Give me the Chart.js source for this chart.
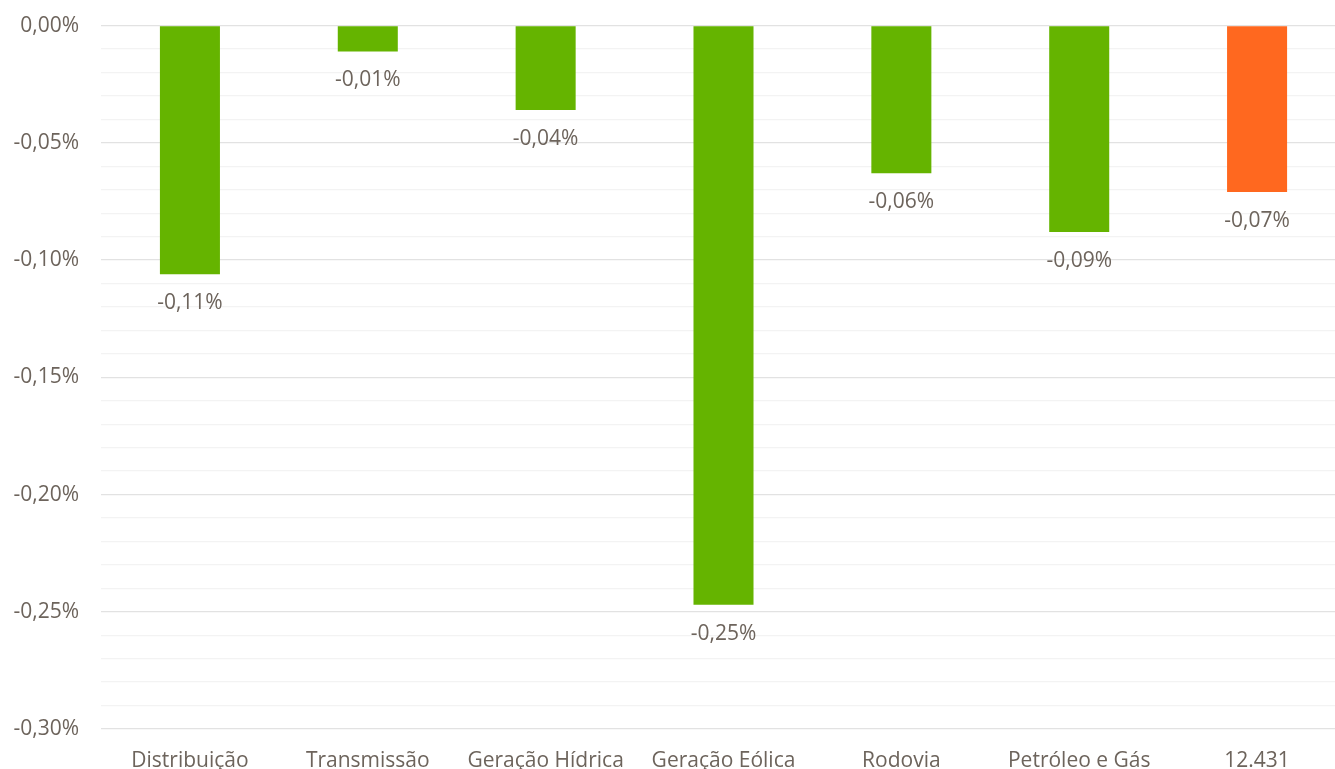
<!DOCTYPE html>
<html>
<head>
<meta charset="utf-8">
<script src="https://cdn.jsdelivr.net/npm/chart.js@4/dist/chart.umd.min.js"></script>
<style>
  html, body { margin: 0; padding: 0; background: #ffffff; overflow: hidden; }
  #wrap { width: 1346px; height: 769px; overflow: hidden; }
  #c { display: block; margin-top: -9px; }
</style>
</head>
<body>
<div id="wrap"><canvas id="c" width="1346" height="778"></canvas></div>
<script>
// Variação por setor (em %)
const categories = ['Distribuição', 'Transmissão', 'Geração Hídrica', 'Geração Eólica', 'Rodovia', 'Petróleo e Gás', '12.431'];
const values = [-0.106, -0.011, -0.036, -0.247, -0.063, -0.088, -0.071];
const barColors = ['#65b400', '#65b400', '#65b400', '#65b400', '#65b400', '#65b400', '#ff681f'];
const yTickLabels = ['0,00%', '-0,05%', '-0,10%', '-0,15%', '-0,20%', '-0,25%', '-0,30%'];

const textColor = '#6d645c';
const fontFamily = "'Open Sans', 'Noto Sans', sans-serif";

function fmtPct(v) {
  return v.toFixed(2).replace('.', ',') + '%';
}

const valueLabels = {
  id: 'valueLabels',
  afterDatasetsDraw(chart) {
    const ctx = chart.ctx;
    const meta = chart.getDatasetMeta(0);
    ctx.save();
    ctx.font = '21px ' + fontFamily;
    ctx.fillStyle = textColor;
    ctx.textAlign = 'center';
    ctx.textBaseline = 'middle';
    meta.data.forEach((bar, i) => {
      ctx.fillText(fmtPct(values[i]), bar.x, bar.y + 29);
    });
    ctx.restore();
  }
};

new Chart(document.getElementById('c'), {
  type: 'bar',
  data: {
    labels: categories,
    datasets: [{
      data: values,
      backgroundColor: barColors,
      borderWidth: 0,
      barPercentage: 0.675,
      categoryPercentage: 0.5
    }]
  },
  options: {
    responsive: false,
    animation: false,
    layout: { padding: { top: 0, right: 0, left: 0, bottom: 0 } },
    plugins: {
      legend: { display: false },
      tooltip: { enabled: false }
    },
    scales: {
      x: {
        grid: { display: false },
        border: { display: false },
        ticks: {
          color: textColor,
          font: { size: 21, family: fontFamily },
          padding: 11,
          maxRotation: 0
        },
        afterFit(scale) { scale.height = 40; }
      },
      y: {
        min: -0.30,
        max: 0,
        border: { display: false },
        grid: {
          drawTicks: false,
          lineWidth: 1.3,
          color(ctx) {
            const v = ctx.tick ? ctx.tick.value : 0;
            const k = Math.round(v * 100);
            return (k % 5 === 0) ? '#e2e2e2' : '#f3f3f3';
          }
        },
        ticks: {
          stepSize: 0.01,
          autoSkip: false,
          color: textColor,
          font: { size: 21, family: fontFamily },
          padding: 22,
          callback(v) {
            const k = Math.round(-v * 100);
            if (k % 5 !== 0) return '';
            return yTickLabels[k / 5];
          }
        },
        afterFit(scale) { scale.width = 101; }
      }
    }
  },
  plugins: [valueLabels]
});
</script>
</body>
</html>
